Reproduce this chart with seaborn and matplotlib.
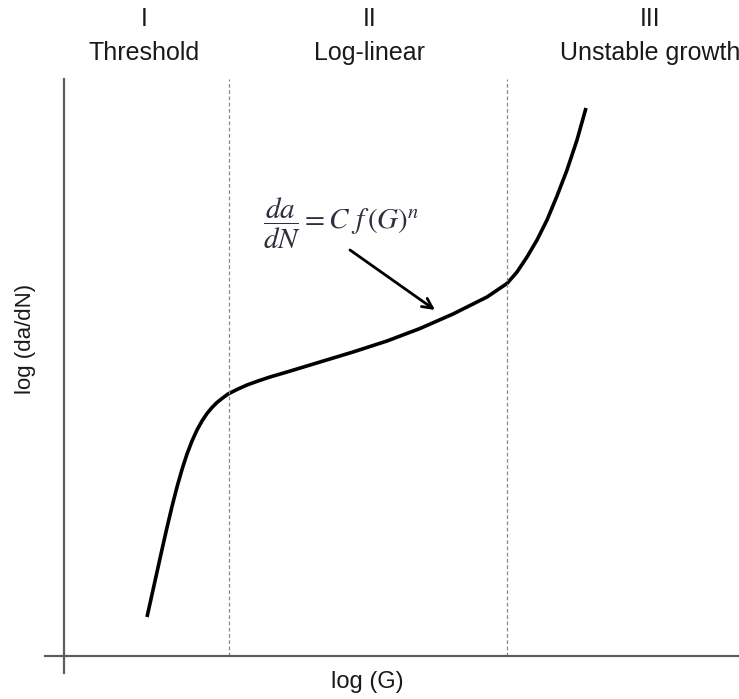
import matplotlib
matplotlib.use("Agg")
import matplotlib.pyplot as plt
import seaborn as sns
import pandas as pd

# Schematic fatigue crack growth curve: log(da/dN) versus log(G)
log_g = [1.66, 1.76, 1.86, 1.96, 2.06, 2.16, 2.26, 2.36, 2.46, 2.56, 2.66,
         2.76, 2.86, 2.96, 3.06, 3.16, 3.28, 3.46, 3.66, 3.88, 4.12, 4.46,
         5.12, 5.78, 6.46, 7.12, 7.78, 8.46, 8.86, 9.06, 9.26, 9.46, 9.66,
         9.86, 10.06, 10.26, 10.44]
log_dadn = [0.78, 1.23, 1.68, 2.13, 2.57, 2.99, 3.38, 3.73, 4.04, 4.30, 4.52,
            4.70, 4.85, 4.97, 5.07, 5.15, 5.24, 5.33, 5.42, 5.50, 5.58, 5.68,
            5.88, 6.08, 6.30, 6.55, 6.84, 7.18, 7.45, 7.68, 7.98, 8.32, 8.72,
            9.20, 9.72, 10.32, 10.96]

# Region boundaries and headings
region_bounds = [3.3, 8.86]
region_numerals = ["I", "II", "III"]
region_names = ["Threshold", "Log-linear", "Unstable growth"]
region_centers = [1.6, 6.12, 11.72]

curve = pd.DataFrame({"log_g": log_g, "log_dadn": log_dadn})

sns.set_theme(style="white")
plt.rcParams["font.family"] = ["Liberation Sans", "DejaVu Sans"]
plt.rcParams["mathtext.fontset"] = "stix"

fig = plt.figure(figsize=(7.39, 6.99), dpi=100)
ax = fig.add_axes([0, 0, 1, 1])
ax.set_xlim(-1.28, 13.5)
ax.set_ylim(-0.86, 13.12)

sns.lineplot(data=curve, x="log_g", y="log_dadn", sort=False, estimator=None,
             color="black", lw=2.6, ax=ax, solid_capstyle="butt",
             solid_joinstyle="round")

ax.vlines(region_bounds, 0, 11.54, colors="#8a8a8a", lw=0.9,
          linestyles=(0, (3, 2)))

# Crossing axes through the origin
for side in ("top", "right"):
    ax.spines[side].set_visible(False)
ax.spines["left"].set_position(("data", 0))
ax.spines["bottom"].set_position(("data", 0))
ax.spines["left"].set_bounds(-0.34, 11.54)
ax.spines["bottom"].set_bounds(-0.38, 13.5)
for side in ("left", "bottom"):
    ax.spines[side].set_color("#5c5c5c")
    ax.spines[side].set_linewidth(1.6)
ax.set_xticks([])
ax.set_yticks([])
ax.set_xlabel("")
ax.set_ylabel("")
ax.patch.set_alpha(0)

for xc, num, name in zip(region_centers, region_numerals, region_names):
    ax.text(xc, 12.74, num, ha="center", va="center", fontsize=18, color="#1a1a1a")
    ax.text(xc, 12.06, name, ha="center", va="center", fontsize=18, color="#1a1a1a")

ax.text(6.06, -0.52, "log (G)", ha="center", va="center", fontsize=17, color="#1a1a1a")
ax.text(-0.76, 6.34, "log (da/dN)", ha="center", va="center", rotation=90,
        fontsize=16, color="#1a1a1a")

ax.text(5.54, 8.66, r"$\dfrac{da}{dN} = C\ f\,\left(G\right)^{n}$", ha="center",
        va="center", fontsize=21, color="#2e2e3e")
ax.annotate("", xy=(7.42, 6.92), xytext=(5.72, 8.12),
            arrowprops=dict(arrowstyle="->", lw=2.0, color="black",
                            mutation_scale=18, shrinkA=0, shrinkB=0))

fig.savefig("out.png", dpi=100)
